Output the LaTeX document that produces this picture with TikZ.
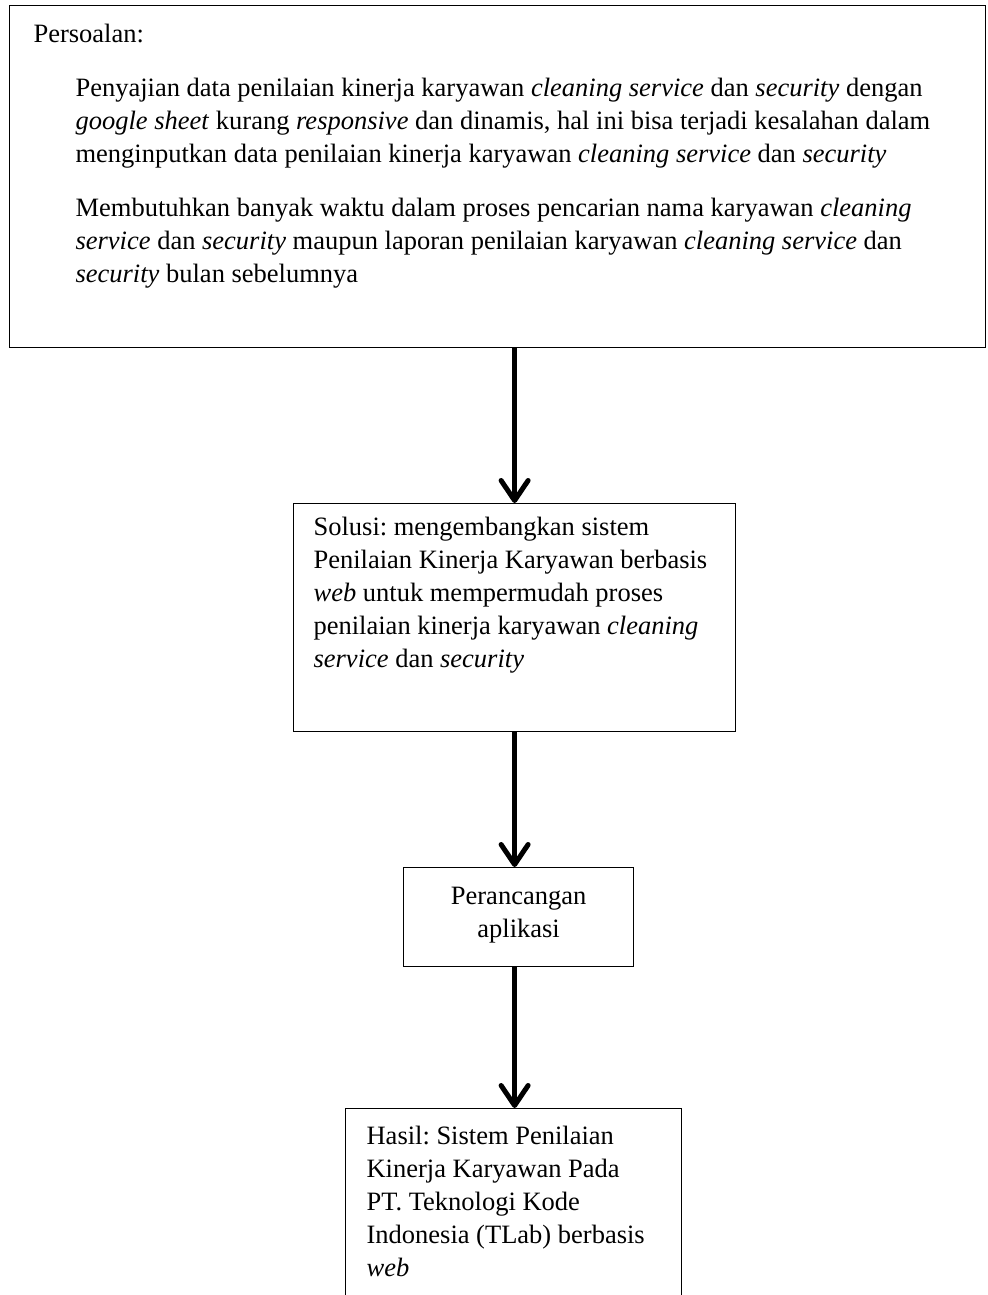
\documentclass[tikz,border=0pt]{standalone}
\usepackage{fontspec}
\setmainfont{Liberation Serif}
\usetikzlibrary{arrows.meta}

% box text: width, height, first baseline, text
\newcommand{\isikotak}[4]{%
  \begin{minipage}[t][#2][t]{#1}
    \fontsize{13.25pt}{16.5pt}\selectfont\frenchspacing
    \raggedright\parindent=0pt \parskip=10.5pt
    \rule{0pt}{#3}#4
  \end{minipage}}

\begin{document}
\begin{tikzpicture}[x=0.5pt, y=-0.5pt,
    kotak/.style={draw, line width=0.6pt, rectangle, inner sep=0pt, anchor=north west},
    panah/.style={line width=2.5pt, -{Straight Barb[length=10pt, width=13.5pt, round]}}]
    \useasboundingbox (0,0) rectangle (987,1295);

    \node[kotak] (masalah) at (9,5) {\isikotak{488pt}{171pt}{18.5pt}{%
        \leftskip=12pt Persoalan:\par
        \leftskip=33pt
        Penyajian data penilaian kinerja karyawan \textit{cleaning service} dan \textit{security} dengan\\
        \textit{google sheet} kurang \textit{responsive} dan dinamis, hal ini bisa terjadi kesalahan dalam\\
        menginputkan data penilaian kinerja karyawan \textit{cleaning service} dan \textit{security}\par
        Membutuhkan banyak waktu dalam proses pencarian nama karyawan \textit{cleaning}\\
        \textit{service} dan \textit{security} maupun laporan penilaian karyawan \textit{cleaning service} dan\\
        \textit{security} bulan sebelumnya\par}};

    \node[kotak] (solusi) at (293,503) {\isikotak{221pt}{114pt}{16pt}{%
        \leftskip=10pt
        Solusi: mengembangkan sistem\\
        Penilaian Kinerja Karyawan berbasis\\
        \textit{web} untuk mempermudah proses\\
        penilaian kinerja karyawan \textit{cleaning}\\
        \textit{service} dan \textit{security}\par}};

    \node[kotak] (rancang) at (403,867) {\isikotak{115pt}{49.5pt}{18.5pt}{%
        \centering Perancangan\\ aplikasi\par}};

    \node[kotak] (hasil) at (345,1108) {\isikotak{168pt}{115pt}{18pt}{%
        \leftskip=10.5pt
        Hasil: Sistem Penilaian\\
        Kinerja Karyawan Pada\\
        PT. Teknologi Kode\\
        Indonesia (TLab) berbasis\\
        \textit{web}\par}};

    \foreach \a/\b in {masalah/solusi, solusi/rancang, rancang/hasil}{
        \draw[panah] (\a.south -| solusi.north) -- (\b.north -| solusi.north);
      }
  \end{tikzpicture}
\end{document}
